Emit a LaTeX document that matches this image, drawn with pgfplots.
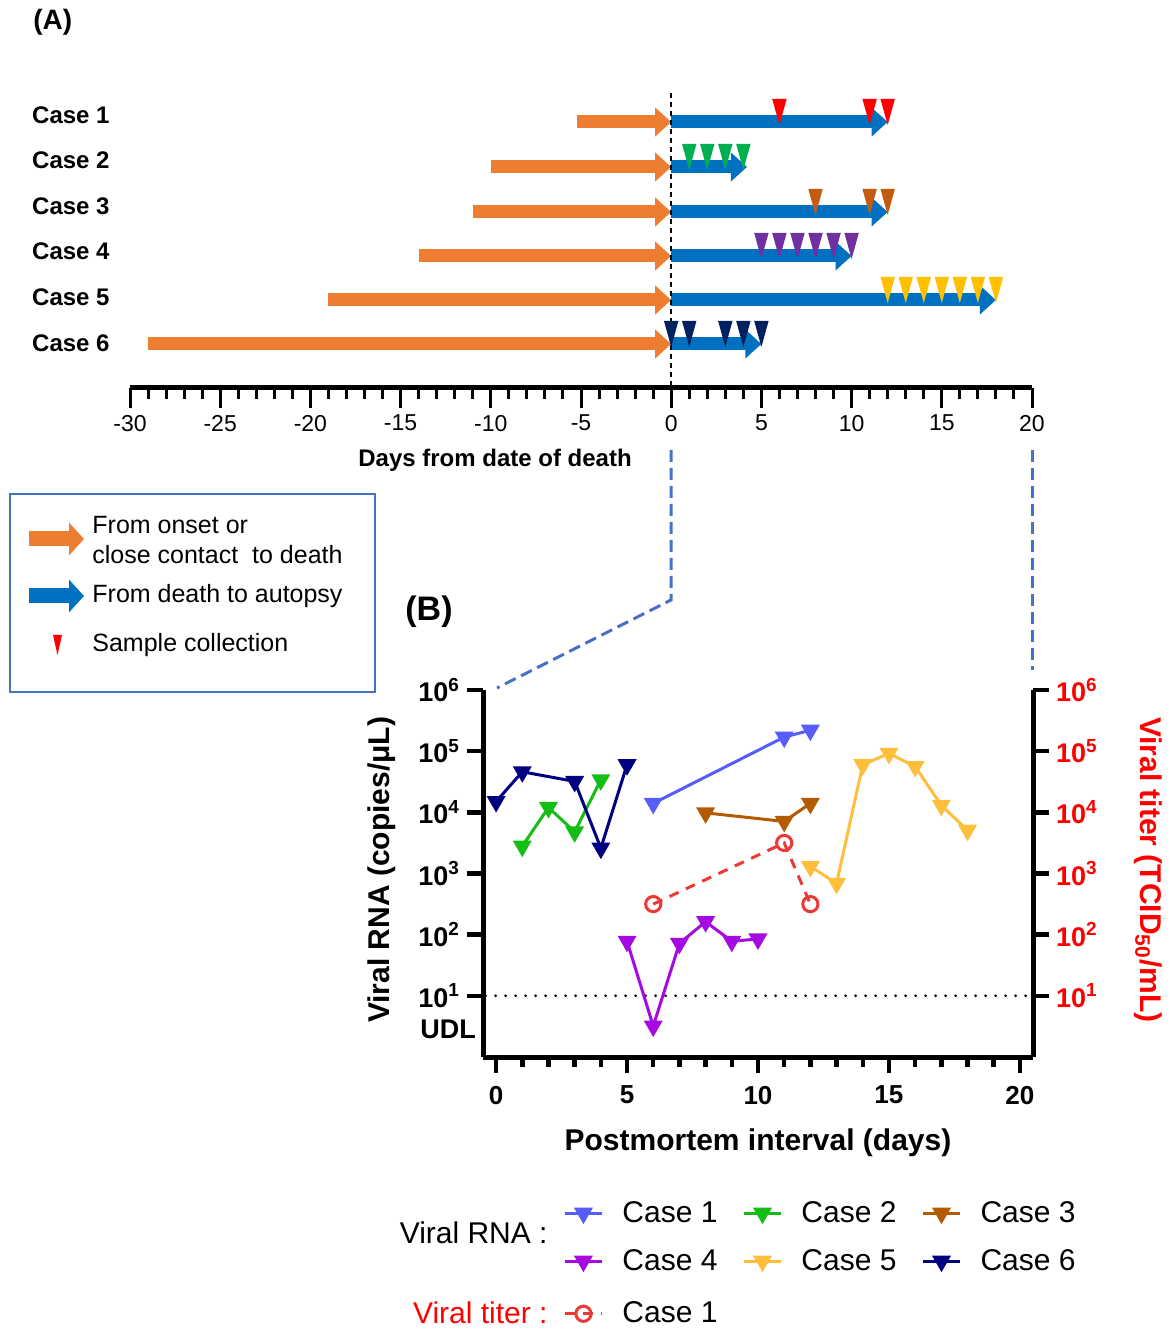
\documentclass[border=0pt]{standalone}
\usepackage{fontspec}
\setmainfont{Liberation Sans}
\usepackage{pgfplots}
\pgfplotsset{compat=1.18}
\usetikzlibrary{arrows.meta}

\definecolor{arrOrange}{RGB}{237,125,49}
\definecolor{arrBlue}{RGB}{0,112,192}
\definecolor{linkBlue}{RGB}{68,114,196}
\definecolor{mC1}{RGB}{255,0,0}
\definecolor{mC2}{RGB}{0,176,80}
\definecolor{mC3}{RGB}{197,90,17}
\definecolor{mC4}{RGB}{112,48,160}
\definecolor{mC5}{RGB}{255,192,0}
\definecolor{mC6}{RGB}{0,32,96}
\definecolor{rC1}{RGB}{88,92,248}
\definecolor{rC2}{RGB}{20,190,20}
\definecolor{rC3}{RGB}{180,90,0}
\definecolor{rC4}{RGB}{165,10,225}
\definecolor{rC5}{RGB}{255,190,60}
\definecolor{rC6}{RGB}{0,0,128}
\definecolor{titer}{RGB}{238,56,56}

\pgfdeclareplotmark{dtri}{%
  \pgfpathmoveto{\pgfpointorigin}%
  \pgfpathlineto{\pgfqpoint{-3.6pt}{13pt}}%
  \pgfpathlineto{\pgfqpoint{3.6pt}{13pt}}%
  \pgfpathclose\pgfusepathqfill}

\begin{document}
\begin{tikzpicture}
\path[use as bounding box] (0,0) rectangle (587.5pt,664.5pt);

% ---------------- Panel A ----------------
\node[anchor=west, inner sep=0pt, font=\bfseries\fontsize{14}{14}\selectfont] at (16.5pt,653.5pt) {(A)};

\begin{axis}[
  name=A,
  at={(65pt,470.5pt)}, anchor=south west,
  scale only axis, width=451pt, height=150pt,
  xmin=-30, xmax=20, ymin=0, ymax=300,
  axis x line*=bottom, axis y line=none,
  xtick pos=left, tick align=outside,
  axis line style={line width=2.5pt, -},
  every tick/.style={black, line width=1.5pt},
  major tick length=10pt, minor tick length=5.5pt,
  xtick={-30,-25,-20,-15,-10,-5,0,5,10,15,20},
  xticklabels={-30,-25,-20,-15,-10,-5,0,5,10,15,20},
  minor x tick num=4,
  xticklabel style={font=\fontsize{11.5}{12}\selectfont},
  xlabel={Days from date of death},
  xlabel style={font=\bfseries\fontsize{12}{12}\selectfont, at={(axis description cs:0.4047,-0.24)}, anchor=center},
  clip=false,
]
% onset / contact -> death
\addplot[arrOrange, line width=6.5pt, -{Triangle[width=14pt,length=8pt]}] coordinates {(-5.2,266) (0,266)};
\addplot[arrOrange, line width=6.5pt, -{Triangle[width=14pt,length=8pt]}] coordinates {(-10,221) (0,221)};
\addplot[arrOrange, line width=6.5pt, -{Triangle[width=14pt,length=8pt]}] coordinates {(-11,176) (0,176)};
\addplot[arrOrange, line width=6.5pt, -{Triangle[width=14pt,length=8pt]}] coordinates {(-14,132) (0,132)};
\addplot[arrOrange, line width=6.5pt, -{Triangle[width=14pt,length=8pt]}] coordinates {(-19,88) (0,88)};
\addplot[arrOrange, line width=6.5pt, -{Triangle[width=14pt,length=8pt]}] coordinates {(-29,44) (0,44)};
% death -> autopsy
\addplot[arrBlue, line width=6.5pt, -{Triangle[width=14pt,length=8pt]}] coordinates {(0,266) (12,266)};
\addplot[arrBlue, line width=6.5pt, -{Triangle[width=14pt,length=8pt]}] coordinates {(0,221) (4.2,221)};
\addplot[arrBlue, line width=6.5pt, -{Triangle[width=14pt,length=8pt]}] coordinates {(0,176) (12,176)};
\addplot[arrBlue, line width=6.5pt, -{Triangle[width=14pt,length=8pt]}] coordinates {(0,132) (10,132)};
\addplot[arrBlue, line width=6.5pt, -{Triangle[width=14pt,length=8pt]}] coordinates {(0,88) (18,88)};
\addplot[arrBlue, line width=6.5pt, -{Triangle[width=14pt,length=8pt]}] coordinates {(0,44) (5,44)};
% date of death
\addplot[black, line width=1pt, dash pattern=on 2.5pt off 2pt] coordinates {(0,2) (0,295)};
% sample collection
\addplot[only marks, mark=dtri, mC1] coordinates {(6,263) (11,263) (12,263)};
\addplot[only marks, mark=dtri, mC2] coordinates {(1,218) (2,218) (3,218) (4,218)};
\addplot[only marks, mark=dtri, mC3] coordinates {(8,173) (11,173) (12,173)};
\addplot[only marks, mark=dtri, mC4] coordinates {(5,129) (6,129) (7,129) (8,129) (9,129) (10,129)};
\addplot[only marks, mark=dtri, mC5] coordinates {(12,85) (13,85) (14,85) (15,85) (16,85) (17,85) (18,85)};
\addplot[only marks, mark=dtri, mC6] coordinates {(0,41) (1,41) (3,41) (4,41) (5,41)};
% case labels
\foreach \r/\c in {273/1,228/2,182/3,137/4,91/5,45/6}{
  \edef\tmp{\noexpand\node[anchor=east, inner sep=0pt, xshift=-10pt, font=\noexpand\bfseries\noexpand\fontsize{12}{12}\noexpand\selectfont] at (axis cs:-30,\r) {Case \c};}
  \tmp
}
\end{axis}

% legend box of panel A
\draw[linkBlue, line width=1pt] (5pt,318.5pt) rectangle (187.5pt,417.5pt);
\draw[arrOrange, line width=7.5pt, -{Triangle[width=16pt,length=7.5pt]}] (14.5pt,395pt) -- (42pt,395pt);
\draw[arrBlue, line width=7.5pt, -{Triangle[width=16pt,length=7.5pt]}] (14.5pt,366.5pt) -- (42pt,366.5pt);
\fill[red] (26.5pt,347pt) -- (31pt,347pt) -- (28.75pt,337pt) -- cycle;
\begin{scope}[every node/.style={anchor=west, inner sep=0pt, font=\fontsize{12.5}{12.5}\selectfont}]
\node at (46pt,402pt) {From onset or};
\node at (46pt,387pt) {close contact\ \ to death};
\node at (46pt,366.5pt) {From death to autopsy};
\node at (46pt,342pt) {Sample collection};
\end{scope}

% connectors
\draw[linkBlue, line width=1.5pt, dash pattern=on 6pt off 3pt] (335.5pt,439.5pt) -- (335.5pt,364.5pt) -- (248.5pt,320.5pt);
\draw[linkBlue, line width=1.5pt, dash pattern=on 6pt off 3pt] (516pt,439.5pt) -- (516pt,329.5pt);

% ---------------- Panel B ----------------
\node[anchor=west, inner sep=0pt, font=\bfseries\fontsize{17}{17}\selectfont] at (202.5pt,358.5pt) {(B)};

\begin{axis}[
  at={(241.5pt,136pt)}, anchor=south west,
  scale only axis, width=275pt, height=183.5pt,
  xmin=-0.5, xmax=20.5, ymode=log, ymin=1, ymax=1e6,
  axis x line*=bottom, axis y line*=left,
  xtick pos=left, ytick pos=left, tick align=outside,
  axis line style={line width=2.5pt, -},
  every tick/.style={black, line width=2.25pt},
  major tick length=8pt, minor tick length=5pt,
  xtick={0,5,10,15,20}, xticklabels={0,5,10,15,20},
  minor x tick num=4,
  ytick={1e1,1e2,1e3,1e4,1e5,1e6},
  yticklabels={10\textsuperscript{1},10\textsuperscript{2},10\textsuperscript{3},10\textsuperscript{4},10\textsuperscript{5},10\textsuperscript{6}},
  yminorticks=false,
  extra y ticks={2.8}, extra y tick labels={UDL},
  extra y tick style={major tick length=0pt},
  yticklabel style={font=\bfseries\fontsize{13.5}{13.5}\selectfont},
  xticklabel style={font=\bfseries\fontsize{13}{13}\selectfont, yshift=-3pt},
  xlabel={Postmortem interval (days)},
  ylabel={Viral RNA (copies/μL)},
  label style={font=\bfseries\fontsize{15}{15}\selectfont},
  xlabel style={at={(axis description cs:0.5,-0.234)}, anchor=center},
  ylabel style={at={(axis description cs:-0.185,0.51)}, anchor=center},
  clip=false,
  legend columns=3,
  legend style={draw=none, fill=none, at={(0.1455,-0.381)}, anchor=north west,
    font=\fontsize{15}{15}\selectfont, inner sep=0pt, row sep=8pt, column sep=7.5pt,
    /tikz/every even column/.append style={column sep=10.5pt}},
  legend image code/.code={\draw[mark repeat=2,mark phase=2,#1] plot coordinates {(0pt,0pt)(9.25pt,0pt)(18.5pt,0pt)};},
]
\addplot[black, line width=1.5pt, dash pattern=on 0pt off 5pt, line cap=round, forget plot] coordinates {(-0.4,10) (20.4,10)};
\addplot[rC1, line width=1.5pt, mark=triangle*, mark size=4pt, mark options={rotate=180, solid}] coordinates {(6,1.4e4) (11,1.7e5) (12,2.2e5)};
\addlegendentry{Case 1}
\addplot[rC2, line width=1.5pt, mark=triangle*, mark size=4pt, mark options={rotate=180, solid}] coordinates {(1,2.8e3) (2,1.2e4) (3,4.8e3) (4,3.4e4)};
\addlegendentry{Case 2}
\addplot[rC3, line width=1.5pt, mark=triangle*, mark size=4pt, mark options={rotate=180, solid}] coordinates {(8,9.8e3) (11,7.1e3) (12,1.4e4)};
\addlegendentry{Case 3}
\addplot[rC4, line width=1.5pt, mark=triangle*, mark size=4pt, mark options={rotate=180, solid}] coordinates {(5,78) (6,3.2) (7,72) (8,163) (9,78) (10,85)};
\addlegendentry{Case 4}
\addplot[rC5, line width=1.5pt, mark=triangle*, mark size=4pt, mark options={rotate=180, solid}] coordinates {(12,1.3e3) (13,690) (14,6e4) (15,9.2e4) (16,5.6e4) (17,1.3e4) (18,5.1e3)};
\addlegendentry{Case 5}
\addplot[rC6, line width=1.5pt, mark=triangle*, mark size=4pt, mark options={rotate=180, solid}] coordinates {(0,1.5e4) (1,4.6e4) (3,3.2e4) (4,2.6e3) (5,6e4)};
\addlegendentry{Case 6}
\end{axis}

\begin{axis}[
  at={(241.5pt,136pt)}, anchor=south west,
  scale only axis, width=275pt, height=183.5pt,
  xmin=-0.5, xmax=20.5, ymode=log, ymin=1, ymax=1e6,
  axis x line=none, axis y line*=right, xtick=\empty,
  ytick pos=right, tick align=outside,
  axis line style={line width=2.5pt, -},
  every tick/.style={black, line width=2.25pt},
  major tick length=8pt,
  ytick={1e1,1e2,1e3,1e4,1e5,1e6},
  yticklabels={10\textsuperscript{1},10\textsuperscript{2},10\textsuperscript{3},10\textsuperscript{4},10\textsuperscript{5},10\textsuperscript{6}},
  yminorticks=false,
  yticklabel style={red, font=\bfseries\fontsize{13.5}{13.5}\selectfont},
  ylabel={Viral titer (TCID\textsubscript{50}/mL)},
  ylabel style={red, font=\bfseries\fontsize{15}{15}\selectfont, at={(axis description cs:1.209,0.51)}, anchor=center, rotate=180},
  clip=false,
  legend style={draw=none, fill=none, at={(0.1455,-0.655)}, anchor=north west,
    font=\fontsize{15}{15}\selectfont, inner sep=0pt, column sep=7.5pt},
  legend image code/.code={\draw[mark repeat=2,mark phase=2,#1] plot coordinates {(0pt,0pt)(9.25pt,0pt)(18.5pt,0pt)};},
]
\addplot[titer, line width=1.5pt, dash pattern=on 5pt off 4pt, mark=o, mark size=3.8pt, mark options={solid, line width=1.5pt}] coordinates {(6,316) (11,3162) (12,316)};
\addlegendentry{Case 1}
\end{axis}

\node[anchor=east, inner sep=0pt, font=\fontsize{15}{15}\selectfont] at (274pt,48pt) {Viral RNA :};
\node[anchor=east, inner sep=0pt, text=red, font=\fontsize{15}{15}\selectfont] at (274pt,8pt) {Viral titer :};
\end{tikzpicture}
\end{document}
